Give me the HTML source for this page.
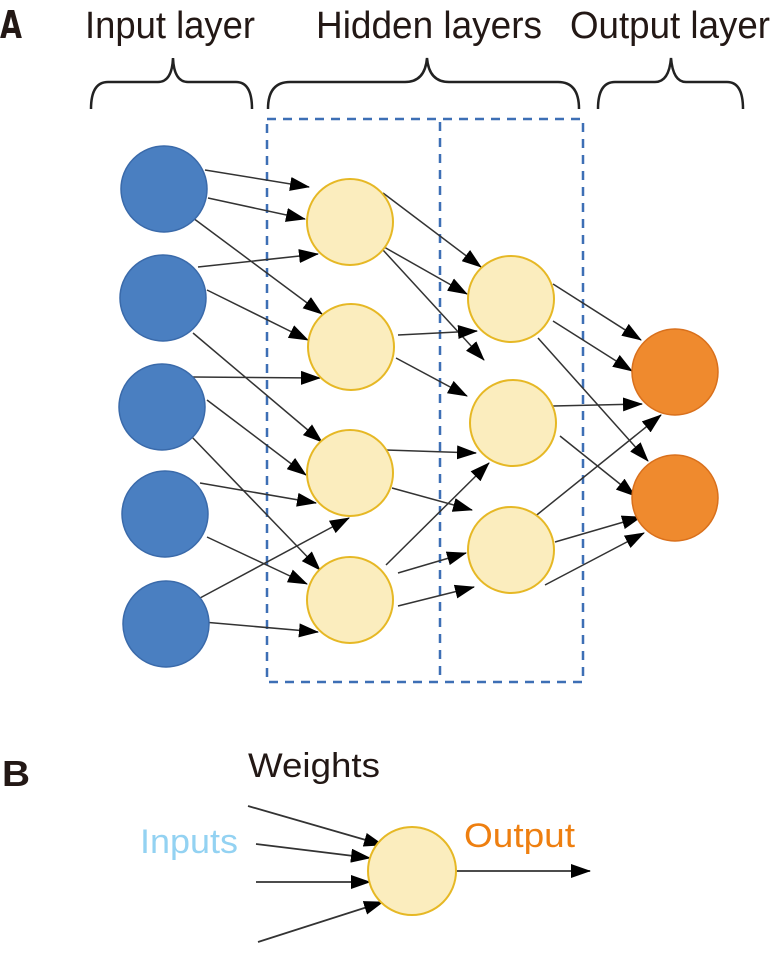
<!DOCTYPE html>
<html><head><meta charset="utf-8"><style>html,body{margin:0;padding:0;background:#fff}svg{display:block}</style></head>
<body>
<svg width="773" height="956" viewBox="0 0 773 956" xmlns="http://www.w3.org/2000/svg" font-family="Liberation Sans, sans-serif">
<defs>
<marker id="m" viewBox="0 0 20 14" refX="19" refY="7" markerWidth="20" markerHeight="14" orient="auto" markerUnits="userSpaceOnUse"><path d="M0,0 L20,7 L0,14 z" fill="#000"/></marker>
</defs>
<text x="0" y="38" font-size="38" font-weight="bold" fill="#231815" font-family="DejaVu Sans, sans-serif" textLength="22" lengthAdjust="spacingAndGlyphs">A</text>
<text x="85" y="38" font-size="38" fill="#231815" textLength="170" lengthAdjust="spacingAndGlyphs">Input layer</text>
<text x="316" y="38" font-size="38" fill="#231815" textLength="226" lengthAdjust="spacingAndGlyphs">Hidden layers</text>
<text x="570" y="38" font-size="38" fill="#231815" textLength="200" lengthAdjust="spacingAndGlyphs">Output layer</text>
<g fill="none" stroke="#222" stroke-width="2.5">
<path d="M91,109 Q91,82 108,82 L158,82 Q172,82 173,58 Q174,82 188,82 L236,82 Q252,82 252,109"/>
<path d="M268,109 Q268,82 290,82 L405,82 Q425,82 427,58 Q429,82 449,82 L558,82 Q579,82 579,109"/>
<path d="M598,109 Q598,82 615,82 L655,82 Q669,82 671,58 Q673,82 686,82 L727,82 Q743,82 743,109"/>
</g>
<g fill="none" stroke="#3d6fb5" stroke-width="2.5" stroke-dasharray="9,7">
<rect x="267" y="119" width="316" height="563"/>
<line x1="440" y1="122" x2="440" y2="680"/>
</g>
<g stroke="#333" stroke-width="1.5" marker-end="url(#m)">
<line x1="205" y1="170" x2="309" y2="187"/>
<line x1="208" y1="198" x2="305" y2="219"/>
<line x1="193" y1="218" x2="322" y2="314"/>
<line x1="198" y1="267" x2="318" y2="254"/>
<line x1="207" y1="290" x2="308" y2="340"/>
<line x1="193" y1="333" x2="322" y2="442"/>
<line x1="193" y1="377" x2="320" y2="378"/>
<line x1="207" y1="400" x2="306" y2="475"/>
<line x1="190" y1="435" x2="320" y2="570"/>
<line x1="200" y1="483" x2="316" y2="503"/>
<line x1="207" y1="537" x2="307" y2="584"/>
<line x1="200" y1="598" x2="349" y2="518"/>
<line x1="203" y1="622" x2="318" y2="632"/>
<line x1="383" y1="193" x2="481" y2="267"/>
<line x1="384" y1="247" x2="467" y2="294"/>
<line x1="383" y1="250" x2="484" y2="360"/>
<line x1="398" y1="335" x2="477" y2="331"/>
<line x1="396" y1="358" x2="467" y2="396"/>
<line x1="386" y1="450" x2="476" y2="453"/>
<line x1="392" y1="488" x2="472" y2="510"/>
<line x1="386" y1="565" x2="489" y2="463"/>
<line x1="398" y1="573" x2="466" y2="553"/>
<line x1="398" y1="606" x2="474" y2="587"/>
<line x1="553" y1="284" x2="641" y2="340"/>
<line x1="553" y1="321" x2="632" y2="371"/>
<line x1="538" y1="338" x2="648" y2="461"/>
<line x1="553" y1="406" x2="642" y2="404"/>
<line x1="560" y1="436" x2="635" y2="496"/>
<line x1="533" y1="518" x2="661" y2="415"/>
<line x1="555" y1="542" x2="641" y2="517"/>
<line x1="545" y1="585" x2="644" y2="533"/>
</g>
<g fill="#4a7fc1" stroke="#3a6aaa" stroke-width="1.5">
<circle cx="164" cy="189" r="43"/>
<circle cx="163" cy="298" r="43"/>
<circle cx="162" cy="407" r="43"/>
<circle cx="165" cy="514" r="43"/>
<circle cx="166" cy="624" r="43"/>
</g>
<g fill="#fbedbe" stroke="#e6b825" stroke-width="2">
<circle cx="350" cy="222" r="43"/>
<circle cx="351" cy="347" r="43"/>
<circle cx="350" cy="473" r="43"/>
<circle cx="350" cy="600" r="43"/>
<circle cx="511" cy="299" r="43"/>
<circle cx="513" cy="423" r="43"/>
<circle cx="511" cy="550" r="43"/>
</g>
<g fill="#ef8a2e" stroke="#d9701c" stroke-width="1.5">
<circle cx="675" cy="372" r="43"/>
<circle cx="675" cy="498" r="43"/>
</g>
<text x="2" y="786" font-size="36" font-weight="bold" fill="#231815" textLength="28" lengthAdjust="spacingAndGlyphs">B</text>
<text x="248" y="777" font-size="34" fill="#231815" textLength="132" lengthAdjust="spacingAndGlyphs">Weights</text>
<text x="140" y="853" font-size="34" fill="#93d2f2" textLength="98" lengthAdjust="spacingAndGlyphs">Inputs</text>
<text x="464" y="847" font-size="34" fill="#ee7f10" textLength="111" lengthAdjust="spacingAndGlyphs">Output</text>
<g stroke="#333" stroke-width="1.8" marker-end="url(#m)">
<line x1="248" y1="806" x2="383" y2="845"/>
<line x1="256" y1="844" x2="370" y2="858"/>
<line x1="256" y1="882" x2="370" y2="882"/>
<line x1="258" y1="942" x2="383" y2="902"/>
<line x1="456" y1="871" x2="590" y2="871"/>
</g>
<circle cx="412" cy="871" r="44" fill="#fbedbe" stroke="#e6b825" stroke-width="2"/>
</svg>
</body></html>
